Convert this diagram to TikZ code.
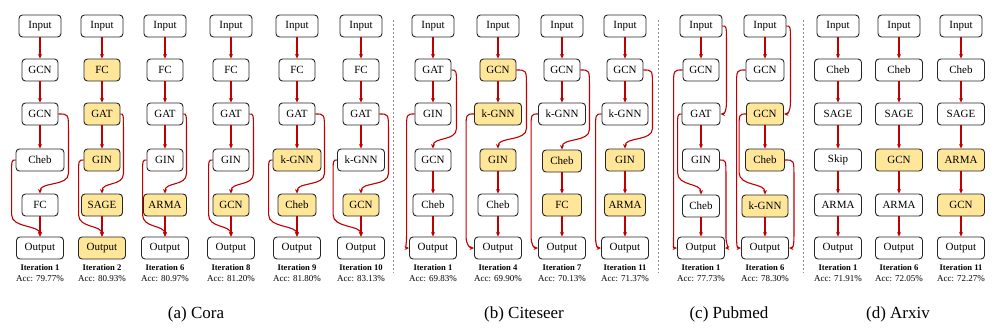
\documentclass[tikz,border=0pt]{standalone}
\usepackage{fontspec}
\setmainfont{Liberation Serif}
\usetikzlibrary{arrows.meta,calc}
\definecolor{edgered}{HTML}{C00000}
\definecolor{hl}{HTML}{FFE699}
\tikzset{
 box/.style={draw=black!85, line width=0.9pt, rounded corners=3.5pt, minimum height=22pt,
   minimum width=36pt, inner sep=0pt, font=\fontsize{11}{12}\selectfont, fill=white},
 io/.style={box, minimum width=42pt},
 outb/.style={box, minimum width=47pt},
 wd/.style={minimum width=#1pt},
 hi/.style={fill=hl},
 arr/.style={draw=edgered, line width=1.1pt, -{Stealth[length=4.5pt,width=4pt]}},
 itlab/.style={font=\fontsize{8.6}{9}\selectfont\bfseries, inner sep=0pt},
 acclab/.style={font=\fontsize{9}{10}\selectfont, inner sep=0pt},
 captext/.style={font=\fontsize{17}{19}\selectfont, inner sep=0pt},
 sepline/.style={draw=black!45, dash pattern=on 2pt off 2pt, line width=0.8pt}
}
\newcommand\sarr[2]{\draw[arr] (#1.south) -- (#2.north);}
% east -> north (right-side skip)
\newcommand\skRN[3]{\draw[arr] let \p1=(#1.east), \p2=(#2.north) in
  (\p1) .. controls (\x1+#3pt,\y1) .. (\x1+#3pt,\y1-16pt) -- (\x1+#3pt,\y2+20pt)
  .. controls (\x1+#3pt,\y2+7pt) and (\x2,\y2+12pt) .. (\p2);}
% west -> north (left-side skip)
\newcommand\skLN[3]{\draw[arr] let \p1=(#1.west), \p2=(#2.north) in
  (\p1) .. controls (\x1-#3pt,\y1) .. (\x1-#3pt,\y1-16pt) -- (\x1-#3pt,\y2+22pt)
  .. controls (\x1-#3pt,\y2+8pt) and (\x2,\y2+12pt) .. (\p2);}
% west -> west
\newcommand\skLW[3]{\draw[arr] let \p1=(#1.west), \p2=(#2.west) in
  (\p1) .. controls (\x1-#3pt,\y1) .. (\x1-#3pt,\y1-16pt) -- (\x1-#3pt,\y2+12pt)
  .. controls (\x1-#3pt,\y2+3pt) and (\x2-4pt,\y2) .. (\p2);}
% east -> east
\newcommand\skRE[3]{\draw[arr] let \p1=(#1.east), \p2=(#2.east) in
  (\p1) .. controls (\x1+#3pt,\y1) .. (\x1+#3pt,\y1-16pt) -- (\x1+#3pt,\y2+12pt)
  .. controls (\x1+#3pt,\y2+3pt) and (\x2+4pt,\y2) .. (\p2);}
\newcommand\lab[4]{\node[itlab] (#1t) at (#2,268) {Iteration #3};
  \node[acclab] (#1a) at (#2,279) {Acc: #4\%};}
\begin{document}
\begin{tikzpicture}[x=1pt,y=-1pt]
\useasboundingbox (0,0) rectangle (996,327);
% ================= Cora =================
% col 1
\node[io] (a1i) at (40,26) {Input};
\node[box] (a1b) at (40,70) {GCN};
\node[box] (a1c) at (40,114) {GCN};
\node[box,wd=48] (a1d) at (40,160) {Cheb};
\node[box] (a1e) at (40,205) {FC};
\node[outb] (a1o) at (40,248) {Output};
\sarr{a1i}{a1b}\sarr{a1b}{a1c}\sarr{a1c}{a1d}\sarr{a1e}{a1o}
\skRN{a1c}{a1e}{10}\skLN{a1d}{a1o}{4}
\lab{a1}{40}{1}{79.77}
% col 2
\node[io] (a2i) at (102,26) {Input};
\node[box,hi] (a2b) at (102,70) {FC};
\node[box,hi] (a2c) at (102,114) {GAT};
\node[box,hi] (a2d) at (102,160) {GIN};
\node[box,hi,wd=41] (a2e) at (102,205) {SAGE};
\node[outb,hi] (a2o) at (102,248) {Output};
\sarr{a2i}{a2b}\sarr{a2b}{a2c}\sarr{a2c}{a2d}\sarr{a2e}{a2o}
\skRN{a2c}{a2e}{3}\skLN{a2d}{a2o}{5}
\lab{a2}{102}{2}{80.93}
% col 3
\node[io] (a3i) at (165,26) {Input};
\node[box] (a3b) at (165,70) {FC};
\node[box] (a3c) at (165,114) {GAT};
\node[box] (a3d) at (165,160) {GIN};
\node[box,hi,wd=43] (a3e) at (165,205) {ARMA};
\node[outb] (a3o) at (165,248) {Output};
\sarr{a3i}{a3b}\sarr{a3b}{a3c}\sarr{a3c}{a3d}\sarr{a3e}{a3o}
\skRN{a3c}{a3e}{3}\skLN{a3d}{a3o}{4}
\lab{a3}{165}{6}{80.97}
% col 4
\node[io] (a4i) at (231,26) {Input};
\node[box] (a4b) at (231,70) {FC};
\node[box] (a4c) at (231,114) {GAT};
\node[box] (a4d) at (231,160) {GIN};
\node[box,hi] (a4e) at (231,205) {GCN};
\node[outb] (a4o) at (231,248) {Output};
\sarr{a4i}{a4b}\sarr{a4b}{a4c}\sarr{a4c}{a4d}\sarr{a4e}{a4o}
\skRN{a4c}{a4e}{4}\skLN{a4d}{a4o}{4}
\lab{a4}{231}{8}{81.20}
% col 5
\node[io] (a5i) at (297,26) {Input};
\node[box] (a5b) at (297,70) {FC};
\node[box] (a5c) at (297,114) {GAT};
\node[box,hi,wd=48] (a5d) at (297,160) {k-GNN};
\node[box,hi,wd=38] (a5e) at (297,205) {Cheb};
\node[outb] (a5o) at (297,248) {Output};
\sarr{a5i}{a5b}\sarr{a5b}{a5c}\sarr{a5c}{a5d}\sarr{a5e}{a5o}
\skRN{a5c}{a5e}{9}\skLN{a5d}{a5o}{4}
\lab{a5}{297}{9}{81.80}
% col 6
\node[io] (a6i) at (361,26) {Input};
\node[box] (a6b) at (361,70) {FC};
\node[box] (a6c) at (361,114) {GAT};
\node[box,wd=47] (a6d) at (361,160) {k-GNN};
\node[box,hi] (a6e) at (361,205) {GCN};
\node[outb] (a6o) at (361,248) {Output};
\sarr{a6i}{a6b}\sarr{a6b}{a6c}\sarr{a6c}{a6d}\sarr{a6e}{a6o}
\skRN{a6c}{a6e}{9}\skLN{a6d}{a6o}{4}
\lab{a6}{361}{10}{83.13}
% separator
\coordinate (s1t) at (393.5,20); \coordinate (s1b) at (393.5,273);
\draw[sepline] (s1t) -- (s1b);
% ================= Citeseer =================
% col 1
\node[io] (b1i) at (433,26) {Input};
\node[box] (b1b) at (433,70) {GAT};
\node[box] (b1c) at (433,114) {GIN};
\node[box] (b1d) at (433,160) {GCN};
\node[box,wd=40] (b1e) at (433,205) {Cheb};
\node[outb] (b1o) at (433,248) {Output};
\sarr{b1i}{b1b}\sarr{b1b}{b1c}\sarr{b1d}{b1e}\sarr{b1e}{b1o}
\skRN{b1b}{b1d}{5}\skLW{b1c}{b1o}{8}
\lab{b1}{433}{1}{69.83}
% col 2
\node[io] (b2i) at (498,26) {Input};
\node[box,hi] (b2b) at (498,70) {GCN};
\node[box,hi,wd=47] (b2c) at (498,114) {k-GNN};
\node[box,hi] (b2d) at (498,160) {GIN};
\node[box,wd=40] (b2e) at (498,205) {Cheb};
\node[outb] (b2o) at (498,248) {Output};
\sarr{b2i}{b2b}\sarr{b2b}{b2c}\sarr{b2d}{b2e}\sarr{b2e}{b2o}
\skRN{b2b}{b2d}{10}\skLW{b2c}{b2o}{8}
\lab{b2}{498}{4}{69.90}
% col 3
\node[io] (b3i) at (562,26) {Input};
\node[box] (b3b) at (562,70) {GCN};
\node[box,wd=47] (b3c) at (562,114) {k-GNN};
\node[box,hi,wd=39] (b3d) at (562,161) {Cheb};
\node[box,hi,wd=39] (b3e) at (562,205) {FC};
\node[outb] (b3o) at (562,248) {Output};
\sarr{b3i}{b3b}\sarr{b3b}{b3c}\sarr{b3d}{b3e}\sarr{b3e}{b3o}
\skRN{b3b}{b3d}{9}\skLW{b3c}{b3o}{7}
\lab{b3}{562}{7}{70.13}
% col 4
\node[io] (b4i) at (625,26) {Input};
\node[box] (b4b) at (625,70) {GCN};
\node[box,wd=46] (b4c) at (625,114) {k-GNN};
\node[box,hi,wd=39] (b4d) at (625,160) {GIN};
\node[box,hi,wd=41] (b4e) at (625,205) {ARMA};
\node[outb] (b4o) at (625,248) {Output};
\sarr{b4i}{b4b}\sarr{b4b}{b4c}\sarr{b4d}{b4e}\sarr{b4e}{b4o}
\skRN{b4b}{b4d}{9}\skLW{b4c}{b4o}{6}
\lab{b4}{625}{11}{71.37}
% separator
\coordinate (s2t) at (658,20); \coordinate (s2b) at (658,273);
\draw[sepline] (s2t) -- (s2b);
% ================= Pubmed =================
% col 1
\node[io] (c1i) at (701,26) {Input};
\node[box] (c1b) at (701,70) {GCN};
\node[box,wd=38] (c1c) at (701,114) {GAT};
\node[box,wd=37] (c1d) at (701,160) {GIN};
\node[box,wd=37] (c1e) at (701,206) {Cheb};
\node[outb] (c1o) at (701,248) {Output};
\sarr{c1i}{c1b}\sarr{c1c}{c1d}\sarr{c1e}{c1o}
\skRE{c1i}{c1c}{4}\skLW{c1b}{c1o}{9}\skLN{c1c}{c1e}{4}\skRE{c1d}{c1o}{6}
\lab{c1}{701}{1}{77.73}
% col 2
\node[io] (c2i) at (765,26) {Input};
\node[box,wd=38] (c2b) at (765,70) {GCN};
\node[box,hi,wd=37] (c2c) at (765,114) {GCN};
\node[box,hi,wd=39] (c2d) at (765,160) {Cheb};
\node[box,hi,wd=46] (c2e) at (765,206) {k-GNN};
\node[outb] (c2o) at (765,248) {Output};
\sarr{c2i}{c2b}\sarr{c2c}{c2d}\sarr{c2e}{c2o}
\skRE{c2i}{c2c}{4}\skLW{c2b}{c2o}{9}\skLN{c2c}{c2e}{7}\skRE{c2d}{c2o}{9}
\lab{c2}{765}{6}{78.30}
% separator
\coordinate (s3t) at (803.5,20); \coordinate (s3b) at (803.5,273);
\draw[sepline] (s3t) -- (s3b);
% ================= Arxiv =================
% col 1
\node[io] (d1i) at (838,26) {Input};
\node[box,wd=47] (d1b) at (838,70) {Cheb};
\node[box,wd=47] (d1c) at (838,114) {SAGE};
\node[box,wd=47] (d1d) at (838,160) {Skip};
\node[box,wd=47] (d1e) at (838,205) {ARMA};
\node[outb] (d1o) at (838,248) {Output};
\sarr{d1i}{d1b}\sarr{d1b}{d1c}\sarr{d1c}{d1d}\sarr{d1d}{d1e}\sarr{d1e}{d1o}
\lab{d1}{838}{1}{71.91}
% col 2
\node[io] (d2i) at (899,26) {Input};
\node[box,wd=47] (d2b) at (899,70) {Cheb};
\node[box,wd=47] (d2c) at (899,114) {SAGE};
\node[box,hi,wd=47] (d2d) at (899,160) {GCN};
\node[box,wd=47] (d2e) at (899,205) {ARMA};
\node[outb] (d2o) at (899,248) {Output};
\sarr{d2i}{d2b}\sarr{d2b}{d2c}\sarr{d2c}{d2d}\sarr{d2d}{d2e}\sarr{d2e}{d2o}
\lab{d2}{899}{6}{72.05}
% col 3
\node[io] (d3i) at (961,26) {Input};
\node[box,wd=47] (d3b) at (961,70) {Cheb};
\node[box,wd=47] (d3c) at (961,114) {SAGE};
\node[box,hi,wd=47] (d3d) at (961,160) {ARMA};
\node[box,hi,wd=47] (d3e) at (961,205) {GCN};
\node[outb] (d3o) at (961,248) {Output};
\sarr{d3i}{d3b}\sarr{d3b}{d3c}\sarr{d3c}{d3d}\sarr{d3d}{d3e}\sarr{d3e}{d3o}
\lab{d3}{961}{11}{72.27}
% ================= captions =================
\node[captext] (capa) at (196,314) {(a) Cora};
\node[captext] (capb) at (524,314) {(b) Citeseer};
\node[captext] (capc) at (729,314) {(c) Pubmed};
\node[captext] (capd) at (898,314) {(d) Arxiv};
\end{tikzpicture}
\end{document}
